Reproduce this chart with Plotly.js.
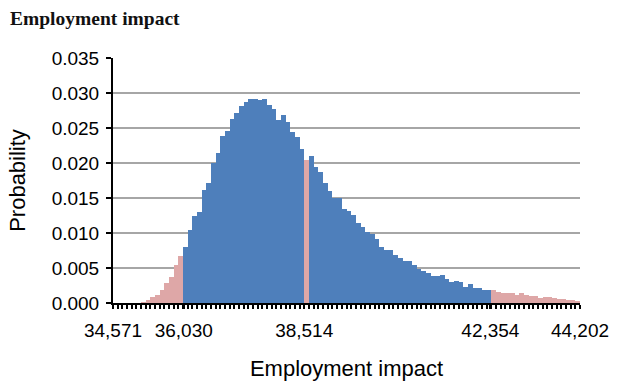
<!DOCTYPE html>
<html>
<head>
<meta charset="utf-8">
<script src="https://cdn.plot.ly/plotly-3.0.1.min.js"></script>
<style>
  html, body { margin: 0; padding: 0; background: #fff; }
  #chart { width: 617px; height: 383px; }
</style>
</head>
<body>
<div id="chart"></div>
<script>
// Forecast range and certainty bounds
const rangeMin = 34571;
const rangeMax = 44202;
const certaintyLow = 36030;
const certaintyHigh = 42354;
const markedValue = 38514;
const tickValues = [34571, 36030, 38514, 42354, 44202];
const tickLabels = ["34,571", "36,030", "38,514", "42,354", "44,202"];

// Probability per bin (100 equal-width bins from rangeMin to rangeMax)
const probability = [
  0, 0, 0, 0, 0, 0, 0.0001, 0.0004, 0.0009, 0.0012,
  0.0019, 0.0029, 0.0037, 0.0054, 0.0067, 0.0080, 0.0104, 0.0125, 0.0130, 0.0162,
  0.0171, 0.0200, 0.0215, 0.0239, 0.0246, 0.0263, 0.0272, 0.0281, 0.0287, 0.0291,
  0.0291, 0.0290, 0.0291, 0.0283, 0.0277, 0.0261, 0.0269, 0.0258, 0.0244, 0.0237,
  0.0220, 0.0204, 0.0210, 0.0194, 0.0187, 0.0172, 0.0160, 0.0150, 0.0150, 0.0135,
  0.0131, 0.0126, 0.0114, 0.0108, 0.0101, 0.0099, 0.0092, 0.0080, 0.0076, 0.0076,
  0.0069, 0.0065, 0.0060, 0.0060, 0.0054, 0.0048, 0.0046, 0.0043, 0.0039, 0.0039,
  0.0040, 0.0035, 0.0030, 0.0031, 0.0030, 0.0023, 0.0027, 0.0021, 0.0021, 0.0019,
  0.0019, 0.0018, 0.0016, 0.0014, 0.0015, 0.0014, 0.0012, 0.0015, 0.0011, 0.0010,
  0.0010, 0.0007, 0.0009, 0.0008, 0.0007, 0.0006, 0.0006, 0.0005, 0.0005, 0.0003
];

const BLUE = '#4e7fbb';
const PINK = '#dea7a7';

const binWidth = (rangeMax - rangeMin) / probability.length;
const markedBin = Math.round((markedValue - rangeMin) / binWidth);
const colors = probability.map((p, i) => {
  const center = rangeMin + binWidth * (i + 0.5);
  if (center < certaintyLow || center > certaintyHigh || i === markedBin) return PINK;
  return BLUE;
});

const trace = {
  type: 'bar',
  x0: rangeMin + binWidth / 2,
  dx: binWidth,
  y: probability,
  marker: { color: colors, line: { width: 0 } },
  hoverinfo: 'none'
};

const font = 'Liberation Sans, Arial, sans-serif';
const layout = {
  width: 617,
  height: 383,
  margin: { l: 113, r: 37, t: 58, b: 80 },
  paper_bgcolor: '#fff',
  plot_bgcolor: '#fff',
  bargap: 0,
  showlegend: false,
  title: {
    text: '<b>Employment impact</b>',
    font: { family: 'Liberation Serif, Times New Roman, serif', size: 19.5, color: '#111' },
    xref: 'container', yref: 'container',
    x: 10 / 617, xanchor: 'left',
    y: 1 - 18 / 383, yanchor: 'middle'
  },
  xaxis: {
    range: [rangeMin, rangeMax],
    tickmode: 'array',
    tickvals: tickValues,
    ticktext: tickLabels,
    ticks: 'outside', ticklen: 4, tickwidth: 2, tickcolor: '#000',
    ticklabelstandoff: 5,
    minor: { tickmode: 'linear', tick0: rangeMin, dtick: binWidth, ticks: 'outside', ticklen: 4, tickwidth: 2, tickcolor: '#000', showgrid: false },
    showline: true, linecolor: '#000', linewidth: 2,
    showgrid: false, zeroline: false,
    tickfont: { family: font, size: 19, color: '#000' },
    title: { text: 'Employment impact', font: { family: font, size: 22, color: '#000' }, standoff: 21 },
    automargin: false
  },
  yaxis: {
    range: [0, 0.035],
    tickmode: 'linear', tick0: 0, dtick: 0.005,
    tickformat: '.3f',
    ticks: 'outside', ticklen: 5, tickwidth: 2, tickcolor: '#000',
    ticklabelstandoff: 3,
    showline: true, linecolor: '#000', linewidth: 2,
    showgrid: true, gridcolor: '#a6a6a6', gridwidth: 2,
    zeroline: false,
    tickfont: { family: font, size: 19, color: '#000' },
    title: { text: 'Probability', font: { family: font, size: 22, color: '#000' }, standoff: 20 },
    automargin: false
  }
};

Plotly.newPlot('chart', [trace], layout, { staticPlot: true, displayModeBar: false });
</script>
</body>
</html>
